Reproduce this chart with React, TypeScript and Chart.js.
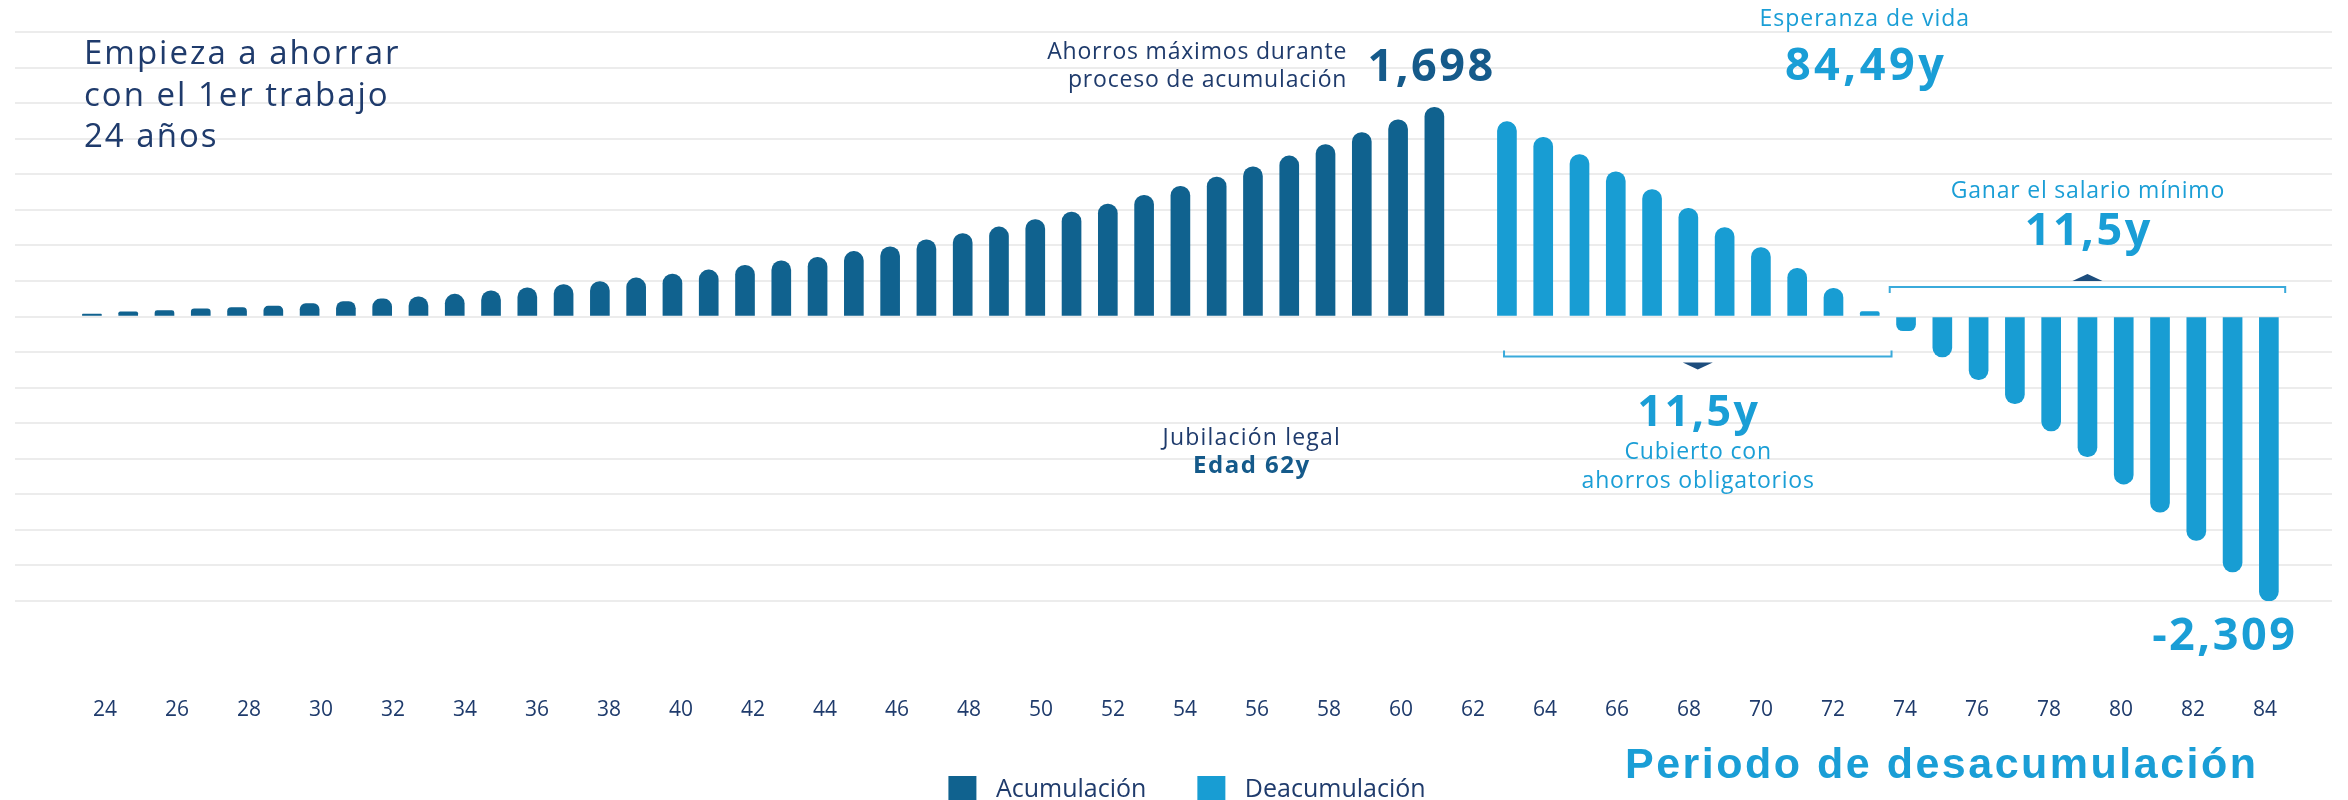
import React, { useEffect, useRef } from 'react';
import { Chart, registerables } from 'chart.js';

Chart.register(...registerables);

// ---------- data ----------
const ages = [
  24, 25, 26, 27, 28, 29, 30, 31, 32, 33, 34, 35, 36, 37, 38, 39, 40, 41, 42, 43,
  44, 45, 46, 47, 48, 49, 50, 51, 52, 53, 54, 55, 56, 57, 58, 59, 60, 61, 62, 63,
  64, 65, 66, 67, 68, 69, 70, 71, 72, 73, 74, 75, 76, 77, 78, 79, 80, 81, 82, 83, 84,
];

// ages 24..61 (null afterwards)
const acumulacion = [
  20, 38, 48, 62, 73, 84, 105, 121, 143, 159, 181, 208, 232, 259, 284, 313, 345, 378, 415, 452,
  480, 528, 566, 622, 673, 727, 786, 848, 913, 983, 1056, 1131, 1215, 1303, 1395, 1492, 1597, 1698,
  null, null, null, null, null, null, null, null, null, null, null, null, null, null, null, null,
  null, null, null, null, null, null, null,
];

// ages 63..84 (null before)
const desacumulacion = [
  null, null, null, null, null, null, null, null, null, null, null, null, null, null, null, null,
  null, null, null, null, null, null, null, null, null, null, null, null, null, null, null, null,
  null, null, null, null, null, null, null,
  1581, 1454, 1314, 1174, 1031, 878, 722, 560, 391, 229, 40,
  -116, -329, -512, -708, -929, -1137, -1360, -1589, -1818, -2074, -2309,
];

const tickAges = [
  24, 26, 28, 30, 32, 34, 36, 38, 40, 42, 44, 46, 48, 50, 52, 54,
  56, 58, 60, 62, 64, 66, 68, 70, 72, 74, 76, 78, 80, 82, 84,
];

const seriesLabels = ['Acumulación', 'Deacumulación'];

// ---------- style ----------
const DARK = '#10628f';
const LIGHT = '#189dd3';
const NAVY = '#1f3b6c';
const DARK_TEXT = '#155a8a';
const LIGHT_TEXT = '#1a9ed6';
const SANS = '"Open Sans", "Noto Sans", sans-serif';

const peakValue = Math.max(...(acumulacion.filter((v) => v !== null) as number[]));
const peakAge = ages[acumulacion.indexOf(peakValue)];
const minValue = Math.min(...(desacumulacion.filter((v) => v !== null) as number[]));
const minAge = ages[desacumulacion.indexOf(minValue)];
const yLimit = Math.abs(minValue);

const fmt = (v: number) => v.toLocaleString('en-US');

const legendShiftPlugin = {
  id: 'legendShift',
  afterLayout(chart: any) {
    if (chart.legend) {
      chart.legend.left += 10;
      chart.legend.right += 10;
    }
  },
};

const annotationPlugin = {
  id: 'annotations',
  afterDraw(chart: any) {
    const { ctx, chartArea } = chart;
    const xs = chart.scales.x;
    const ys = chart.scales.y;
    const X = (v: number) => xs.getPixelForValue(v);
    const Y = (v: number) => ys.getPixelForValue(v);
    const zero = Y(0);

    const text = (
      s: string, px: number, py: number, size: number, weight: number, color: string,
      align: CanvasTextAlign = 'left', spacing = 0, family = SANS,
    ) => {
      ctx.font = `${weight} ${size}px ${family}`;
      ctx.fillStyle = color;
      ctx.textAlign = align;
      ctx.textBaseline = 'alphabetic';
      (ctx as any).letterSpacing = `${spacing}px`;
      let dx = 0;
      if (spacing && align === 'center') dx = spacing / 2;
      if (spacing && align === 'right') dx = spacing;
      ctx.fillText(s, px + dx, py);
      (ctx as any).letterSpacing = '0px';
    };

    ctx.save();

    // intro text
    const introX = chartArea.left + 69;
    text('Empieza a ahorrar', introX, 64, 33, 400, NAVY, 'left', 2);
    text('con el 1er trabajo', introX, 106, 33, 400, NAVY, 'left', 2);
    text('24 años', introX, 147, 33, 400, NAVY, 'left', 2);

    // peak
    const peakX = X(peakAge);
    const peakY = Y(peakValue);
    text(fmt(peakValue), peakX - 4, peakY - 26, 45, 700, DARK_TEXT, 'center', 2.5);
    text('Ahorros máximos durante', peakX - 88, peakY - 48, 23, 400, NAVY, 'right', 0.8);
    text('proceso de acumulación', peakX - 88, peakY - 20, 23, 400, NAVY, 'right', 0.8);

    // life expectancy
    const lifeX = X(72.85);
    text('Esperanza de vida', lifeX, chartArea.top - 6, 23, 400, LIGHT_TEXT, 'center', 1);
    text('84,49y', lifeX, chartArea.top + 48, 45, 700, LIGHT_TEXT, 'center', 3.5);

    // upper bracket (minimum wage)
    const uL = X(73.55);
    const uR = X(84.45);
    const uY = zero - 29.5;
    const uC = (uL + uR) / 2;
    ctx.strokeStyle = '#3aaadb';
    ctx.lineWidth = 2;
    ctx.beginPath();
    ctx.moveTo(uL, uY + 6);
    ctx.lineTo(uL, uY);
    ctx.lineTo(uR, uY);
    ctx.lineTo(uR, uY + 6);
    ctx.stroke();
    ctx.fillStyle = '#1d4d7d';
    ctx.beginPath();
    ctx.moveTo(uC - 15, uY - 6);
    ctx.lineTo(uC + 15, uY - 6);
    ctx.lineTo(uC, uY - 13);
    ctx.closePath();
    ctx.fill();
    text('Ganar el salario mínimo', uC, uY - 89, 23, 400, LIGHT_TEXT, 'center', 0.8);
    text('11,5y', uC, uY - 42, 45, 700, LIGHT_TEXT, 'center', 2.5);

    // lower bracket (mandatory savings)
    const lL = X(62.92);
    const lR = X(73.6);
    const lY = zero + 40;
    const lC = (lL + lR) / 2;
    ctx.strokeStyle = '#3aaadb';
    ctx.lineWidth = 2;
    ctx.beginPath();
    ctx.moveTo(lL, lY - 6);
    ctx.lineTo(lL, lY);
    ctx.lineTo(lR, lY);
    ctx.lineTo(lR, lY - 6);
    ctx.stroke();
    ctx.fillStyle = '#1d4d7d';
    ctx.beginPath();
    ctx.moveTo(lC - 15, lY + 6);
    ctx.lineTo(lC + 15, lY + 6);
    ctx.lineTo(lC, lY + 13);
    ctx.closePath();
    ctx.fill();
    text('11,5y', lC, lY + 69, 43, 700, LIGHT_TEXT, 'center', 2.5);
    text('Cubierto con', lC, lY + 102, 23, 400, LIGHT_TEXT, 'center', 0.8);
    text('ahorros obligatorios', lC, lY + 131, 23, 400, LIGHT_TEXT, 'center', 0.8);

    // legal retirement
    const retX = X(55.95);
    text('Jubilación legal', retX, zero + 128, 23, 400, NAVY, 'center', 1.2);
    text('Edad 62y', retX, zero + 156, 24, 700, DARK_TEXT, 'center', 1.5);

    // minimum value
    text(fmt(minValue), X(minAge) + 26, Y(minValue) + 49, 45, 700, LIGHT_TEXT, 'right', 2.5);

    // period title
    text('Periodo de desacumulación', 1625, 778, 43, 700, LIGHT_TEXT, 'left', 2.5,
      '"Liberation Sans", Arial, sans-serif');

    ctx.restore();
  },
};

export default function App() {
  const ref = useRef<HTMLCanvasElement | null>(null);

  useEffect(() => {
    if (!ref.current) return;
    const toPoints = (vals: (number | null)[]) =>
      ages.map((a, i) => ({ x: a, y: vals[i] })).filter((p) => p.y !== null);

    const chart = new Chart(ref.current, {
      type: 'bar',
      data: {
        datasets: [
          {
            label: seriesLabels[0],
            data: toPoints(acumulacion) as any,
            backgroundColor: DARK,
            borderRadius: 10,
            borderSkipped: 'start',
            barThickness: 19,
            grouped: false,
            xAxisID: 'x',
          } as any,
          {
            label: seriesLabels[1],
            data: toPoints(desacumulacion) as any,
            backgroundColor: LIGHT,
            borderRadius: 10,
            borderSkipped: 'start',
            barThickness: 19,
            grouped: false,
            xAxisID: 'x',
          } as any,
        ],
      },
      options: {
        animation: false,
        responsive: false,
        devicePixelRatio: 1,
        layout: { padding: { left: 15, right: 16, top: 32, bottom: 0 } },
        scales: {
          x: {
            type: 'linear',
            display: false,
            min: 21.88,
            max: 85.74,
            offset: false,
          },
          ageAxis: {
            type: 'linear',
            axis: 'x',
            position: 'bottom',
            min: 21.5,
            max: 85.86,
            offset: false,
            grid: { display: false, drawTicks: false },
            border: { display: false },
            ticks: {
              padding: 96,
              autoSkip: false,
              maxRotation: 0,
              color: NAVY,
              font: { family: SANS, size: 21 },
            },
            afterBuildTicks: (s: any) => {
              s.ticks = tickAges.map((v) => ({ value: v }));
            },
            afterFit: (s: any) => {
              s.height = 124;
              s.paddingLeft = 0;
              s.paddingRight = 0;
            },
          },
          y: {
            min: -yLimit,
            max: yLimit,
            ticks: { display: false, count: 17 },
            grid: { color: '#ececec', lineWidth: 2, drawTicks: false },
            border: { display: false },
            afterFit: (s: any) => {
              s.width = 0;
            },
          },
        },
        plugins: {
          tooltip: { enabled: false },
          legend: {
            position: 'bottom',
            labels: {
              boxWidth: 42,
              boxHeight: 42,
              padding: 44,
              color: NAVY,
              font: { family: SANS, size: 25 },
              generateLabels: (c: any) =>
                c.data.datasets.map((ds: any, i: number) => ({
                  text: ds.label,
                  fillStyle: ds.backgroundColor,
                  strokeStyle: '#ffffff',
                  lineWidth: 14,
                  hidden: false,
                  datasetIndex: i,
                  fontColor: NAVY,
                })),
            },
          },
        },
      } as any,
      plugins: [legendShiftPlugin, annotationPlugin],
    });
    return () => chart.destroy();
  }, []);

  return (
    <div
      style={{
        position: 'fixed', left: 0, top: 0, width: 2348, height: 800,
        overflow: 'hidden', background: '#ffffff',
      }}
    >
      <canvas ref={ref} width={2348} height={821} style={{ display: 'block' }} />
    </div>
  );
}
